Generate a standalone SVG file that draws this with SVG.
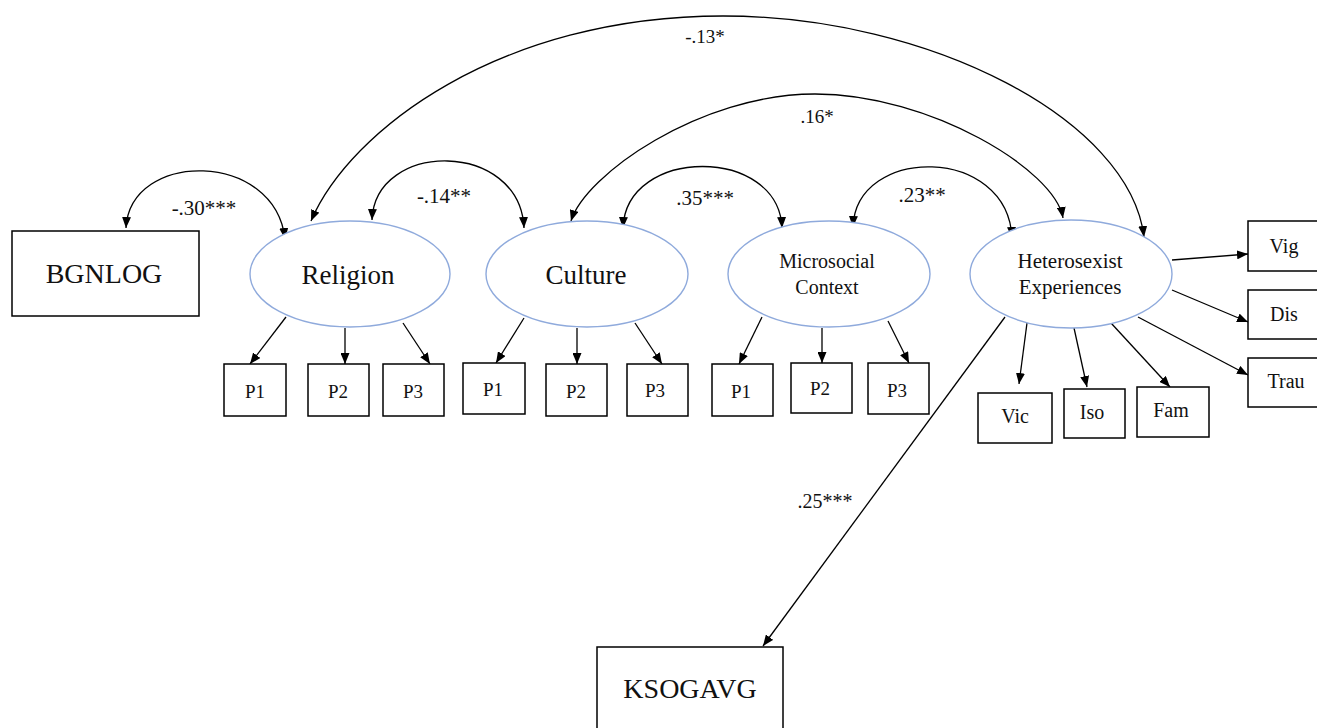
<svg xmlns="http://www.w3.org/2000/svg" width="1317" height="728" viewBox="0 0 1317 728">
<defs>
<marker id="ah" markerUnits="userSpaceOnUse" markerWidth="11" markerHeight="9" refX="11" refY="4.5" orient="auto-start-reverse" viewBox="0 0 11 9">
<path d="M0,0 L11,4.5 L0,9 z" fill="#000"/>
</marker>
<style>
.box{fill:#fff;stroke:#000;stroke-width:1.5}
.lat{fill:#fff;stroke:#8faadc;stroke-width:1.4}
.t{font-family:"Liberation Serif","Times New Roman",serif;fill:#111;text-anchor:middle}
.c{fill:none;stroke:#000;stroke-width:1.3}
.a{marker-end:url(#ah)}
.b{marker-start:url(#ah);marker-end:url(#ah)}
</style>
</defs>
<rect width="1317" height="728" fill="#fff"/>

<g id="connectors">
<path class="c b" d="M311,221 C350,130 500,16 723,16 C930,16 1130,120 1144,237"/>
<path class="c b" d="M571,221 C585,175 700,94 815,94 C930,94 1055,170 1063,218"/>
<path class="c b" d="M126,228 C130,150 275,150 285,239"/>
<path class="c b" d="M372,220 C375,140 520,140 524,228"/>
<path class="c b" d="M623,228 C626,146 779,146 782,228"/>
<path class="c b" d="M853,227 C856,145 1008,145 1012,238"/>
<line class="c a" x1="286" y1="317" x2="250" y2="364"/>
<line class="c a" x1="345" y1="328" x2="345" y2="364"/>
<line class="c a" x1="403" y1="323" x2="430" y2="364"/>
<line class="c a" x1="524" y1="318" x2="496" y2="363"/>
<line class="c a" x1="577" y1="328" x2="577" y2="364"/>
<line class="c a" x1="635" y1="323" x2="662" y2="364"/>
<line class="c a" x1="762" y1="317" x2="739" y2="364"/>
<line class="c a" x1="822" y1="328" x2="822" y2="363"/>
<line class="c a" x1="888" y1="321" x2="909" y2="363"/>
<line class="c a" x1="1172" y1="260" x2="1248" y2="254"/>
<line class="c a" x1="1172" y1="290" x2="1248" y2="322"/>
<line class="c a" x1="1138" y1="317" x2="1248" y2="375"/>
<line class="c a" x1="1027" y1="323" x2="1019" y2="384"/>
<line class="c a" x1="1074" y1="328" x2="1087" y2="387"/>
<line class="c a" x1="1111" y1="323" x2="1170" y2="387"/>
<line class="c a" x1="1005" y1="317" x2="763" y2="646"/>
<text class="t" x="204" y="215" font-size="21">-.30***</text>
<text class="t" x="444" y="203" font-size="21">-.14**</text>
<text class="t" x="705" y="205" font-size="21">.35***</text>
<text class="t" x="922" y="202" font-size="21">.23**</text>
<text class="t" x="705" y="43" font-size="19">-.13*</text>
<text class="t" x="817" y="123" font-size="19">.16*</text>
<text class="t" x="825" y="508" font-size="20">.25***</text>
</g>

<g id="bgnlog"><rect class="box" x="12" y="231" width="187" height="85"/><text class="t" x="104" y="283" font-size="28">BGNLOG</text></g>
<g id="ksogavg"><rect class="box" x="597" y="647" width="186" height="100"/><text class="t" x="690" y="698" font-size="28">KSOGAVG</text></g>

<g id="religion"><ellipse class="lat" cx="350" cy="274" rx="100" ry="53"/><text class="t" x="348" y="284" font-size="27">Religion</text></g>
<g id="culture"><ellipse class="lat" cx="587" cy="274" rx="101" ry="53"/><text class="t" x="586" y="284" font-size="27">Culture</text></g>
<g id="microsocial"><ellipse class="lat" cx="829" cy="274" rx="101" ry="53"/><text class="t" x="827" y="268" font-size="20">Microsocial</text><text class="t" x="827" y="294" font-size="20">Context</text></g>
<g id="heterosexist"><ellipse class="lat" cx="1071" cy="274" rx="101" ry="54"/><text class="t" x="1070" y="268" font-size="21">Heterosexist</text><text class="t" x="1070" y="294" font-size="21">Experiences</text></g>

<g id="rel-p1"><rect class="box" x="224" y="364" width="62" height="52"/><text class="t" x="255" y="398" font-size="19">P1</text></g>
<g id="rel-p2"><rect class="box" x="308" y="364" width="61" height="52"/><text class="t" x="338" y="398" font-size="19">P2</text></g>
<g id="rel-p3"><rect class="box" x="383" y="364" width="61" height="52"/><text class="t" x="413" y="398" font-size="19">P3</text></g>
<g id="cul-p1"><rect class="box" x="463" y="363" width="62" height="51"/><text class="t" x="493" y="396" font-size="19">P1</text></g>
<g id="cul-p2"><rect class="box" x="546" y="364" width="61" height="52"/><text class="t" x="576" y="398" font-size="19">P2</text></g>
<g id="cul-p3"><rect class="box" x="627" y="364" width="61" height="52"/><text class="t" x="655" y="397" font-size="19">P3</text></g>
<g id="mic-p1"><rect class="box" x="712" y="364" width="61" height="52"/><text class="t" x="741" y="398" font-size="19">P1</text></g>
<g id="mic-p2"><rect class="box" x="791" y="363" width="61" height="50"/><text class="t" x="820" y="395" font-size="19">P2</text></g>
<g id="mic-p3"><rect class="box" x="868" y="363" width="61" height="51"/><text class="t" x="897" y="397" font-size="19">P3</text></g>

<g id="vig"><rect class="box" x="1248" y="221" width="90" height="50"/><text class="t" x="1284" y="253" font-size="20">Vig</text></g>
<g id="dis"><rect class="box" x="1248" y="290" width="90" height="49"/><text class="t" x="1284" y="321" font-size="20">Dis</text></g>
<g id="trau"><rect class="box" x="1248" y="358" width="90" height="49"/><text class="t" x="1286" y="388" font-size="20">Trau</text></g>
<g id="vic"><rect class="box" x="978" y="393" width="74" height="50"/><text class="t" x="1015" y="423" font-size="20">Vic</text></g>
<g id="iso"><rect class="box" x="1064" y="389" width="61" height="49"/><text class="t" x="1092" y="419" font-size="20">Iso</text></g>
<g id="fam"><rect class="box" x="1137" y="387" width="72" height="50"/><text class="t" x="1171" y="417" font-size="20">Fam</text></g>
</svg>
